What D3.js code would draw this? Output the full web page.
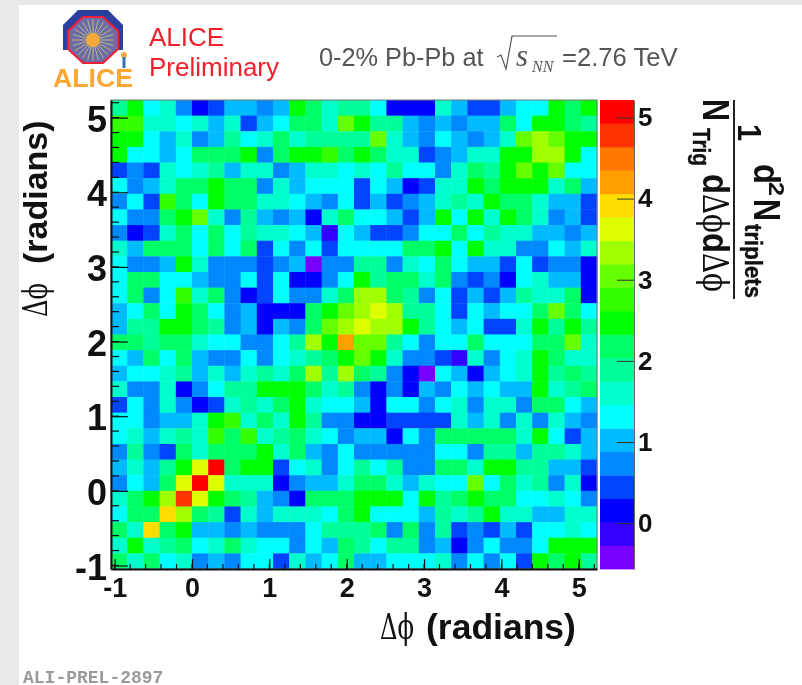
<!DOCTYPE html>
<html>
<head>
<meta charset="utf-8">
<script src="https://cdn.jsdelivr.net/npm/d3@7"></script>
<style>
  html, body { margin: 0; padding: 0; background: #fff; overflow: hidden; }
  svg { display: block; filter: blur(0.45px); }
  text { font-family: "Liberation Sans", Arial, sans-serif; }
  .bold { font-weight: bold; fill: #111; }
  .sym { font-family: "DejaVu Serif", "Liberation Serif", serif; font-weight: normal; }
</style>
</head>
<body>
<svg id="chart" width="802" height="685"></svg>
<script>
// rows from top (dphi high) to bottom, columns left to right
const rows = [
  [1.9,2.5,1.3,1.6,.7,.2,.5,1,1,.7,1,2.5,2.2,1.6,1.9,1.9,1.3,.2,.2,.2,1.6,1,.5,.5,1,1.3,1.3,2.5,2.2,2.5],
  [2.8,2.8,1.6,1.6,1.3,1.6,1,1.6,.5,1,1.3,2.2,2.2,1.6,3,2.5,1.9,1.9,1,.7,1,.7,1,1,2.2,1.3,2.5,2.5,2.2,1.9],
  [2.5,2.5,1.3,1,1.6,.7,1,1.9,1.3,1.6,2.2,1.6,1.9,1.9,1.9,1.9,3,1.6,1,.7,1.3,1,.7,1,1.6,3,3.3,3,2.5,2.5],
  [2.5,1.3,1.3,1,1.3,2.2,2.2,2.2,2.5,.7,2.2,2.5,2.5,2.8,2.2,2.5,2.2,1.6,1.6,.5,.7,1,1.6,1.6,2.5,2.5,3.3,3.3,2.5,1.3],
  [.5,.7,.5,1.6,1.3,1.6,1.9,1,1.6,1.6,.7,1,1.6,1.6,1.3,1.6,1.3,1.9,1.3,1.3,.7,1.6,2.2,1.9,2.5,3,2.5,3,1.3,1.3],
  [1.3,.7,1,1.6,2.2,2.2,2.5,2.2,2.2,.7,1.6,1,1.3,1.3,1.3,.5,1.3,1,.2,.5,1.6,1.6,2.5,2.2,2.5,2.5,2.5,1.6,2.2,1],
  [.7,1.3,.5,2.8,2.2,1.3,2.5,2.2,2.2,1.6,1.6,1.3,1,.7,1.3,.5,1,.5,.7,1,1.6,1.9,1.6,2.5,2.2,2.2,1.6,1,1,.5],
  [1.3,.7,.7,2.2,2.5,3,1.6,.7,1.9,1,.7,1,.2,1.6,2.2,1.3,1.3,1,.5,1,2.5,1.3,2.5,1.6,2.5,2.2,1.6,.7,1,.5],
  [.7,.2,.5,1.6,2.2,1.3,2.2,1.3,1.9,1.6,1.6,1.3,1,-.1,1.3,1,.5,.5,.7,1.3,1.3,2.2,1.3,1.9,1.6,1.6,1,1,.7,1],
  [1.6,1,2.2,2.2,2.2,1.3,2.2,1.3,2.2,.5,1.3,.7,1.3,.5,1.3,1.3,1.3,1.3,2.2,2.2,2.5,1.3,2.5,1.6,1.6,.7,.7,1.3,1,1.6],
  [1.3,.7,.7,1,2.5,1.6,.7,.7,.7,.5,.7,1,-.4,.7,.7,1.9,1.9,.7,1.6,1.3,2.2,1.3,1,1,.5,1.3,.5,.7,.7,.2],
  [1.3,2.2,2.2,1.3,1.3,1,.7,.7,1.3,.5,1.3,.2,.2,.7,1.3,2.5,1.9,2.2,2.2,1.6,2.2,.7,.5,.7,.2,1.3,1.6,1,1,.2],
  [1.3,2.2,.7,1.3,2.8,1.6,2.2,.7,.2,.5,1.3,.7,.7,1.6,2.2,3.3,3.3,2.2,1.9,.7,1.3,.5,1,.5,1,1.9,1.6,1.6,2.2,.2],
  [1,1.3,2.2,1.3,2.5,2.2,1.3,.7,1,.2,.2,.2,2.2,2.5,3,3.3,3.6,3.3,1.9,1.9,1.3,.5,1.3,1,1.3,1.3,2.2,3,2.2,1.3],
  [1,1.9,1.9,2.5,2.5,2.2,1.9,.7,1,.2,1,.7,2.2,3,3.3,3.6,3.3,3.3,2.5,1.9,1.3,1,1.3,.5,.5,1.6,2.5,1.9,2.5,1.9],
  [2.2,2.2,1.9,2.2,2.2,1.6,1.3,1.3,.7,.7,1.3,1.9,3.3,2.5,4.2,3,3,1.9,1.3,.7,1.3,1.3,2.2,1.3,1.3,1.3,2.2,2.2,3,1.6],
  [1.3,1,2.2,1.3,2.2,1,.7,.7,1.3,.7,1.3,1.6,1.9,2.2,2.5,3,2.5,1.6,.7,.7,.5,-.1,1.6,.7,1.3,1.6,2.5,2.2,1.6,1.6],
  [1,1.3,1.3,1.6,1.9,1,1.6,1,1.6,1.9,1.6,2.2,3.3,1.9,3.3,2.2,1.9,.7,.2,-.4,1.3,1,.2,1,1.3,1.6,2.5,1.9,2.2,1.9],
  [1.6,.7,.7,1.6,.2,.7,1.3,1.9,1.9,2.5,2.5,2.5,2.2,1.6,1.9,.7,.2,.7,.2,1,.7,1.3,1,1.3,1,1,2.5,1.6,1.9,2.2],
  [.5,1.3,.7,1.6,.7,.2,.5,1.6,1.9,1.6,2.2,2.5,1.6,1.3,1.3,1,.2,1.3,1.3,.7,1.3,1.6,.7,1.6,1.6,.7,2.2,2.2,1.3,1],
  [1.3,1.3,.7,1,1,1.6,2.5,2.8,1.6,2.2,1.6,2.5,1.9,.7,.7,.2,.2,.5,.5,.5,.5,1.6,1,1.6,.7,1.6,.7,1.6,1,.7],
  [1.3,1.6,1,1.6,1.9,1.6,2.8,2.2,2.8,1.6,1.9,2.2,1.6,1.3,.7,1,1,.2,1.3,.7,2.2,2.2,2.2,2.2,2.2,1.6,2.5,1.3,.5,1],
  [.7,1.9,.7,.5,2.2,1.6,2.2,2.2,2.2,2.5,1.6,2.2,1,.7,1.3,.7,.7,.7,.7,.7,1.3,1.3,.7,1.9,1.9,1,1.9,1.9,1.6,1],
  [1,1.6,1,1.9,2.5,3.6,5.1,2.2,2.5,2.5,.5,1.3,1.6,.7,1.3,1.9,1.3,1.9,.7,.7,2.2,2.2,1.6,2.5,2.5,1.9,1.9,1,1,.5],
  [.7,1.3,1,2.2,3.6,5.1,3.6,1.6,1.6,1.6,.2,.7,1,1,1.6,2.2,2.2,1.6,1,1.6,1.3,1.3,3,1.3,2.2,1.6,1.9,.7,1.6,.2],
  [1.6,2.2,2.5,3.3,4.8,3.6,2.5,2.2,1.9,1,.7,.2,2.2,2.2,2.2,2.5,2.5,2.5,1.3,2.5,1.9,2.2,2.5,2.2,2.2,1.3,1.3,1.6,1.3,.7],
  [1.3,2.2,2.2,3.9,3.3,2.2,1.9,.5,1.6,1,1.6,1.6,1.6,1.3,2.2,2.5,1.3,1.3,1.3,1,1.9,1.6,1.9,2.5,1.6,1.6,1,1,1.6,1.6],
  [2.2,1.6,3.9,2.2,2.5,1,1,.7,1,.7,.7,.7,1.3,1.9,1.9,1.9,2.2,.7,2.2,.7,1.9,.5,.7,.5,1,.5,1.3,1.3,1.6,1.3],
  [1.6,2.5,1.6,1.9,2.2,1.3,1.6,2.2,1.6,1.3,1.3,.7,1.3,1,2.2,1.9,1.3,1.9,1.9,.7,1,.2,.7,1.3,.7,.7,1.3,2.5,2.5,2.5],
  [2.2,1.6,2.2,1.3,1.6,.7,1,.7,1.3,1.3,.5,1.6,1,1.3,2.2,1,1,1.3,1.3,1.3,1.6,.7,1.3,.7,1.3,.5,2.5,2.2,2.5,1.9]
];
const palette = ["#7700ff","#3300ff","#0000ff","#0044ff","#0088ff","#00bbff","#00ffff","#00ffcc","#00ff99","#00ff66",
  "#00ff00","#33ff00","#66ff00","#a0ff00","#ddff00","#ffdd00","#ffa000","#ff7700","#ff3300","#ff0000"];
const xTicks = [-1, 0, 1, 2, 3, 4, 5];
const yTicks = [-1, 0, 1, 2, 3, 4, 5];
const zTicks = [0, 1, 2, 3, 4, 5];
const phiMin = -Math.PI / 3, phiMax = 5 * Math.PI / 3;
const zMin = -0.565, zMax = 5.215;

const svg = d3.select("#chart");
const box = { left: 111, right: 597, top: 100, bottom: 569 };
const bar = { left: 600, right: 634 };

// page background, grey strip on top and left
svg.append("rect").attr("x", -3).attr("y", -3).attr("width", 808).attr("height", 691).attr("fill", "#e9e9e9");
svg.append("rect").attr("x", 19).attr("y", 5).attr("width", 786).attr("height", 683).attr("fill", "#fff");

const x = d3.scaleLinear().domain([phiMin, phiMax]).range([box.left, box.right]);
const y = d3.scaleLinear().domain([phiMin, phiMax]).range([box.bottom, box.top]);
const z = d3.scaleLinear().domain([zMin, zMax]).range([box.bottom, box.top]);
const color = d3.scaleQuantize().domain([zMin, zMax]).range(palette);

const step = (phiMax - phiMin) / rows.length;
const cells = rows.flatMap((row, r) => row.map((v, c) => ({ r, c, v })));

svg.append("g")
  .selectAll("rect")
  .data(cells)
  .join("rect")
    .attr("x", d => x(phiMin + d.c * step))
    .attr("y", d => y(phiMax - d.r * step))
    .attr("width", x(step) - x(0) + 0.4)
    .attr("height", y(0) - y(step) + 0.4)
    .attr("fill", d => color(d.v));

// frame
svg.append("rect")
  .attr("x", box.left).attr("y", box.top)
  .attr("width", box.right - box.left).attr("height", box.bottom - box.top)
  .attr("fill", "none").attr("stroke", "#777");

// ticks are inward like in ROOT, minor every 0.2
const minor = d3.range(-10, 53, 2).map(d => d / 10).filter(d => d >= phiMin && d <= phiMax);
const xAxis = d3.axisBottom(x).tickValues(xTicks).tickSizeInner(-10).tickSizeOuter(0).tickPadding(9).tickFormat(String);
const yAxis = d3.axisLeft(y).tickValues(yTicks).tickSizeInner(-17).tickSizeOuter(0).tickPadding(4).tickFormat(String);

const gx = svg.append("g").attr("transform", `translate(0,${box.bottom})`);
gx.selectAll("line.minor").data(minor).join("line").attr("class", "minor")
  .attr("x1", d => x(d)).attr("x2", d => x(d)).attr("y1", 0).attr("y2", -5)
  .attr("stroke", "#111").attr("stroke-width", 1.2);
gx.call(xAxis);
gx.select(".domain").attr("stroke", "#111").attr("stroke-width", 2);
gx.selectAll(".tick line").attr("stroke", "#111").attr("stroke-width", 1.2);
gx.selectAll(".tick text").attr("class", "bold").attr("font-size", 27).style("font-family", "Liberation Sans").attr("fill", "#111");

const gy = svg.append("g").attr("transform", `translate(${box.left},0)`);
gy.selectAll("line.minor").data(minor).join("line").attr("class", "minor")
  .attr("y1", d => y(d)).attr("y2", d => y(d)).attr("x1", 0).attr("x2", 8)
  .attr("stroke", "#111").attr("stroke-width", 1.2);
gy.call(yAxis);
gy.select(".domain").attr("stroke", "#111").attr("stroke-width", 2);
gy.selectAll(".tick line").attr("stroke", "#111").attr("stroke-width", 1.2);
gy.selectAll(".tick text").attr("class", "bold").attr("font-size", 36).attr("dy", "0.38em").style("font-family", "Liberation Sans").attr("fill", "#111");

// colour bar
const bandH = (box.bottom - box.top) / palette.length;
svg.append("g")
  .selectAll("rect")
  .data(palette)
  .join("rect")
    .attr("x", bar.left)
    .attr("y", (d, i) => box.bottom - (i + 1) * bandH)
    .attr("width", bar.right - bar.left)
    .attr("height", bandH + 0.4)
    .attr("fill", d => d);

const gz = svg.append("g").attr("transform", `translate(${bar.right},0)`);
gz.call(d3.axisRight(z).tickValues(zTicks).tickSizeInner(-17).tickSizeOuter(0).tickPadding(4).tickFormat(String));
gz.select(".domain").attr("stroke", "#666");
gz.selectAll(".tick line").attr("stroke", "#333").attr("stroke-width", 1);
gz.selectAll(".tick text").attr("class", "bold").attr("font-size", 26).style("font-family", "Liberation Sans").attr("fill", "#111");

// axis titles
const axisTitle = (sel, size, gap) => {
  sel.attr("class", "bold").attr("font-size", size);
  sel.append("tspan").attr("class", "sym").attr("textLength", 34).attr("lengthAdjust", "spacingAndGlyphs").text("Δϕ");
  sel.append("tspan").attr("dx", gap).text("(radians)");
};
svg.append("text").attr("x", 380).attr("y", 639).call(axisTitle, 35.5, 12);
svg.append("text").attr("transform", "translate(47,317) rotate(-90)").call(axisTitle, 34, 19);

// z title, rotated quarter turn clockwise
const rot = (sx, sy, size, txt, len) => {
  const t = svg.append("text")
    .attr("transform", `translate(${sx},${sy}) rotate(90)`)
    .attr("class", "bold")
    .attr("font-size", size)
    .text(txt);
  if (len) t.attr("textLength", len).attr("lengthAdjust", "spacingAndGlyphs");
  return t;
};
rot(703, 99, 36, "N", 22);
rot(693, 128, 24, "Trig", 38).attr("font-weight", "normal").attr("stroke", "#111").attr("stroke-width", 0.4);
const den = svg.append("text")
  .attr("transform", "translate(703,174) rotate(90)")
  .attr("class", "bold").attr("font-size", 36);
["d", "Δϕ", "d", "Δϕ"].forEach((t, i) => den.append("tspan").attr("class", i % 2 ? "sym" : null)
  .attr("textLength", i % 2 ? 39 : 20).attr("lengthAdjust", "spacingAndGlyphs").text(t));
svg.append("line").attr("x1", 734).attr("x2", 734).attr("y1", 100).attr("y2", 299)
  .attr("stroke", "#222").attr("stroke-width", 2);
rot(738, 124, 34, "1", 17);
rot(754, 164, 36, "d", 20);
rot(769, 182, 22, "2", 14);
rot(754, 199, 36, "N", 22);
rot(745, 224, 24, "triplets", 74).attr("font-weight", "normal").attr("stroke", "#111").attr("stroke-width", 0.4);

// heading texts
svg.append("text").attr("x", 149).attr("y", 46).attr("font-size", 26).attr("fill", "#f0202a").text("ALICE");
svg.append("text").attr("x", 149).attr("y", 76).attr("font-size", 26).attr("fill", "#f0202a").text("Preliminary");
const grey = "#555";
svg.append("text").attr("x", 319).attr("y", 66).attr("font-size", 25.3).attr("fill", grey).text("0-2% Pb-Pb at");
svg.append("path").attr("d", "M497,57 L501,55 L506,69 L512,36 L557,36")
  .attr("fill", "none").attr("stroke", grey).attr("stroke-width", 1.2);
svg.append("text").attr("x", 516).attr("y", 66).attr("font-size", 31).attr("fill", grey)
  .attr("font-style", "italic").style("font-family", "Liberation Serif").text("s");
svg.append("text").attr("x", 532).attr("y", 72).attr("font-size", 16).attr("fill", grey)
  .attr("font-style", "italic").style("font-family", "Liberation Serif").text("NN");
svg.append("text").attr("x", 562).attr("y", 66).attr("font-size", 25.6).attr("fill", grey).text("=2.76 TeV");

svg.append("text").attr("x", 23).attr("y", 683).attr("font-size", 18).attr("font-weight", "bold")
  .attr("fill", "#9a9a9a").style("font-family", "Liberation Mono").text("ALI-PREL-2897");

// ALICE logo, drawn by hand
const logo = svg.append("g").attr("transform", "translate(93,40)");
logo.append("path")
  .attr("d", "M-30,10 L-30,-15 L-15,-30 L15,-30 L30,-15 L30,10 Z")
  .attr("fill", "#2a3f9e");
logo.append("path")
  .attr("d", "M-10,-23 L10,-23 L25,-9 L25,9 L10,23 L-10,23 L-25,9 L-25,-9 Z")
  .attr("fill", "#6f6aa8").attr("stroke", "#ee2233").attr("stroke-width", 2);
d3.range(0, 360, 15).forEach(a => {
  const t = a * Math.PI / 180;
  logo.append("line").attr("x1", 0).attr("y1", 0)
    .attr("x2", 21 * Math.cos(t)).attr("y2", 21 * Math.sin(t))
    .attr("stroke", a % 30 ? "#9fc48a" : "#c9b07a").attr("stroke-width", 1);
});
logo.append("circle").attr("r", 7).attr("fill", "#f6a93b");
logo.append("circle").attr("cx", 31).attr("cy", 15).attr("r", 3).attr("fill", "#f6a93b");
logo.append("line").attr("x1", 31).attr("x2", 31).attr("y1", 17).attr("y2", 28).attr("stroke", "#3a6fb0").attr("stroke-width", 3);
svg.append("text").attr("x", 53).attr("y", 87).attr("font-size", 25).attr("font-weight", "bold")
  .attr("fill", "#fba733").style("font-family", "Liberation Sans").attr("textLength", 80).attr("lengthAdjust", "spacingAndGlyphs").text("ALICE");
</script>
</body>
</html>
